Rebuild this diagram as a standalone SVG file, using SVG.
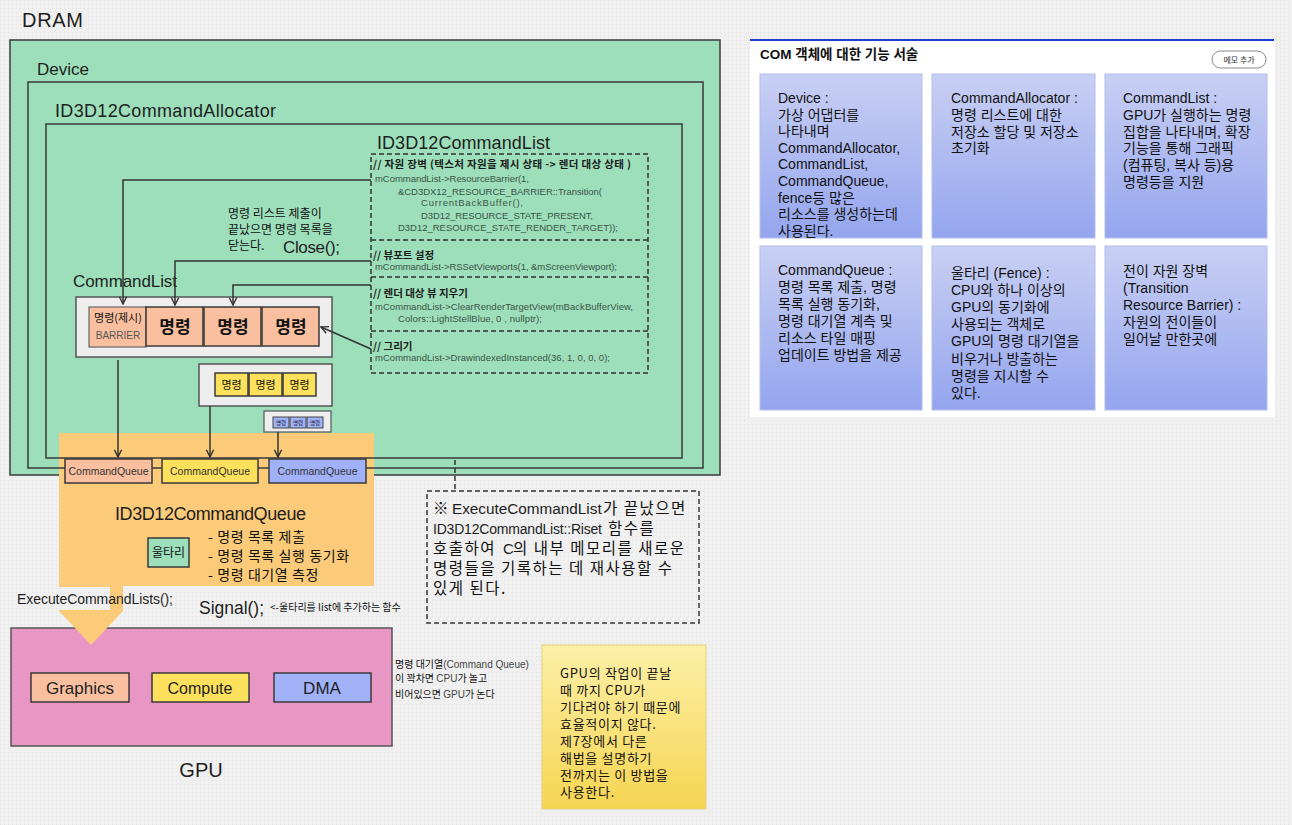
<svg xmlns="http://www.w3.org/2000/svg" width="1292" height="825" viewBox="0 0 1292 825">
  <style>
    .box { stroke:#3a3a3a; stroke-width:1.5; }
    .green { fill:#9ddfbb; }
    .hand { font-family:"Liberation Sans","Noto Sans CJK KR",sans-serif; fill:#1e1e1e; }
    .ko { font-family:"Noto Sans CJK KR","Liberation Sans",sans-serif; fill:#111; }
    .code { font-family:"Liberation Sans","Noto Sans CJK KR",sans-serif; font-size:9.5px; fill:#3b5446; }
    .cmt { font-family:"Noto Sans CJK KR",sans-serif; font-size:10.5px; font-weight:bold; fill:#1a1a1a; }
    .conn { fill:none; stroke:#333; stroke-width:1.5; }
    .dash { fill:none; stroke:#333; stroke-width:1.5; stroke-dasharray:5 3; }
    .card { font-family:"Liberation Sans","Noto Sans CJK KR",sans-serif; font-size:14px; fill:#111; }
    .q { font-family:"Liberation Sans",sans-serif; font-size:10.5px; fill:#333; text-anchor:middle; }
    .mid { text-anchor:middle; }
  </style>
  <defs>
    <pattern id="dots" width="4" height="4" patternUnits="userSpaceOnUse">
      <rect width="4" height="4" fill="#f0f0f0"/>
      <rect width="1" height="1" fill="#e2e2e2"/>
    </pattern>
    <linearGradient id="cardFill" x1="0" y1="0" x2="0" y2="1">
      <stop offset="0" stop-color="#c9d0f4"/>
      <stop offset="1" stop-color="#94a5ee"/>
    </linearGradient>
    <linearGradient id="stickyFill" x1="0" y1="0" x2="0" y2="1">
      <stop offset="0" stop-color="#fcf0a8"/>
      <stop offset="1" stop-color="#f6d552"/>
    </linearGradient>
    <marker id="arr" viewBox="0 0 10 10" refX="9" refY="5" markerWidth="9" markerHeight="9" markerUnits="userSpaceOnUse" orient="auto">
      <path d="M1,1 L9,5 L1,9" fill="none" stroke="#333" stroke-width="1.6"/>
    </marker>
  </defs>

  <!-- page -->
  <rect width="1292" height="825" fill="url(#dots)"/>

  <!-- memory hierarchy -->
  <g id="dram">
    <rect class="box green" x="10" y="40" width="710" height="435"/>
    <text class="hand" x="22" y="27" font-size="20" textLength="61">DRAM</text>
  </g>
  <g id="device">
    <rect class="box green" x="28" y="82" width="675" height="386"/>
    <text class="hand" x="37" y="75" font-size="17" textLength="52">Device</text>
  </g>
  <g id="allocator">
    <rect class="box green" x="46" y="124" width="636" height="334"/>
    <text class="hand" x="55" y="117" font-size="18" textLength="221">ID3D12CommandAllocator</text>
  </g>

  <!-- GPU -->
  <g id="gpu">
    <rect x="11" y="628" width="381" height="118" fill="#e896c3" stroke="#555" stroke-width="1.5"/>
    <rect class="box" x="31" y="673" width="98" height="29" fill="#f9bf9f"/>
    <text class="hand mid" x="80" y="694" font-size="17">Graphics</text>
    <rect class="box" x="152" y="673" width="97" height="29" fill="#fde05c"/>
    <text class="hand mid" x="200" y="694" font-size="16">Compute</text>
    <rect class="box" x="274" y="673" width="97" height="29" fill="#a0b1f8"/>
    <text class="hand mid" x="322" y="694" font-size="17">DMA</text>
    <text class="hand mid" x="201" y="777" font-size="20">GPU</text>
  </g>

  <!-- command list code -->
  <g id="commandlist-code">
    <text class="hand" x="377" y="149" font-size="18" textLength="173">ID3D12CommandList</text>
    <rect class="dash" x="371" y="154" width="277" height="219"/>
    <line class="dash" x1="371" y1="240" x2="648" y2="240"/>
    <line class="dash" x1="371" y1="277" x2="648" y2="277"/>
    <line class="dash" x1="371" y1="331" x2="648" y2="331"/>
    <text class="cmt" x="373" y="168" textLength="258">// 자원 장벽 (텍스처 자원을 제시 상태 -&gt; 렌더 대상 상태 )</text>
    <text class="code" x="375" y="182" textLength="154">mCommandList-&gt;ResourceBarrier(1,</text>
    <text class="code" x="398" y="195" textLength="204">&amp;CD3DX12_RESOURCE_BARRIER::Transition(</text>
    <text class="code" x="421" y="206" textLength="102">CurrentBackBuffer(),</text>
    <text class="code" x="421" y="219" textLength="172">D3D12_RESOURCE_STATE_PRESENT,</text>
    <text class="code" x="398" y="231" textLength="220">D3D12_RESOURCE_STATE_RENDER_TARGET));</text>
    <text class="cmt" x="373" y="259">// 뷰포트 설정</text>
    <text class="code" x="375" y="270" textLength="242">mCommandList-&gt;RSSetViewports(1, &amp;mScreenViewport);</text>
    <text class="cmt" x="373" y="297">// 렌더 대상 뷰 지우기</text>
    <text class="code" x="375" y="310" textLength="258">mCommandList-&gt;ClearRenderTargetView(mBackBufferView,</text>
    <text class="code" x="398" y="322" textLength="144">Colors::LightStellBlue, 0 , nullptr);</text>
    <text class="cmt" x="373" y="350">// 그리기</text>
    <text class="code" x="375" y="361" textLength="235">mCommandList-&gt;DrawindexedInstanced(36, 1, 0, 0, 0);</text>
  </g>

  <g id="close-note">
    <text class="ko" x="228" y="218" font-size="12">명령 리스트 제출이</text>
    <text class="ko" x="228" y="234" font-size="12">끝났으면 명령 목록을</text>
    <text class="ko" x="228" y="250" font-size="12">닫는다.</text>
    <text class="hand" x="283" y="253" font-size="17" textLength="57">Close();</text>
  </g>

  <!-- command lists -->
  <g id="commandlist-1">
    <text class="hand" x="73" y="287" font-size="17" textLength="104">CommandList</text>
    <rect x="76" y="297" width="256" height="60" fill="#eeeeee" stroke="#555" stroke-width="1.5"/>
    <rect x="89" y="307" width="57" height="40" fill="#f9bf9f" stroke="#666" stroke-width="1.2"/>
    <text class="ko mid" x="118" y="322" font-size="11">명령(제시)</text>
    <text class="hand mid" x="118" y="339" font-size="10" style="fill:#555">BARRIER</text>
    <rect class="box" x="146" y="307" width="57" height="39" fill="#f9bf9f"/>
    <rect class="box" x="204" y="307" width="57" height="39" fill="#f9bf9f"/>
    <rect class="box" x="262" y="307" width="57" height="39" fill="#f9bf9f"/>
    <text class="ko mid" x="175" y="333" font-size="17" font-weight="bold">명령</text>
    <text class="ko mid" x="233" y="333" font-size="17" font-weight="bold">명령</text>
    <text class="ko mid" x="291" y="333" font-size="17" font-weight="bold">명령</text>
  </g>
  <g id="commandlist-2">
    <rect x="199" y="364" width="133" height="42" fill="#eeeeee" stroke="#555" stroke-width="1.5"/>
    <rect class="box" x="215" y="373" width="33" height="23" fill="#fde05c"/>
    <rect class="box" x="249" y="373" width="33" height="23" fill="#fde05c"/>
    <rect class="box" x="283" y="373" width="33" height="23" fill="#fde05c"/>
    <text class="ko mid" x="231.5" y="389" font-size="11">명령</text>
    <text class="ko mid" x="265.5" y="389" font-size="11">명령</text>
    <text class="ko mid" x="299.5" y="389" font-size="11">명령</text>
  </g>
  <g id="commandlist-3">
    <rect x="264" y="411" width="67" height="21" fill="#eeeeee" stroke="#555" stroke-width="1.2"/>
    <rect x="273" y="417" width="16" height="11" fill="#a0b1f8" stroke="#444" stroke-width="1"/>
    <rect x="290" y="417" width="16" height="11" fill="#a0b1f8" stroke="#444" stroke-width="1"/>
    <rect x="307" y="417" width="16" height="11" fill="#a0b1f8" stroke="#444" stroke-width="1"/>
    <text class="ko mid" x="281" y="425" font-size="5.5">명령</text>
    <text class="ko mid" x="298" y="425" font-size="5.5">명령</text>
    <text class="ko mid" x="315" y="425" font-size="5.5">명령</text>
  </g>

  <!-- command queue -->
  <g id="command-queue">
    <path d="M59,433 H374 V586 H123 V611 L91,645 L59,611 Z" fill="#fbcb7a"/>
    <line x1="59" y1="458" x2="374" y2="458" stroke="#3a3a3a" stroke-width="1.5"/>
    <line x1="59" y1="468" x2="374" y2="468" stroke="#3a3a3a" stroke-width="1.5"/>
    <rect class="box" x="65" y="459" width="87" height="24" fill="#f9bf9f"/>
    <text class="q" x="108.5" y="475">CommandQueue</text>
    <rect class="box" x="162" y="459" width="96" height="24" fill="#fde05c"/>
    <text class="q" x="210" y="475">CommandQueue</text>
    <rect class="box" x="269" y="459" width="97" height="24" fill="#a0b1f8"/>
    <text class="q" x="317.5" y="475">CommandQueue</text>
    <text class="hand" x="115" y="520" font-size="18" textLength="191">ID3D12CommandQueue</text>
    <rect class="box green" x="148" y="538" width="41" height="29"/>
    <text class="ko mid" x="168.5" y="557" font-size="12">울타리</text>
    <text class="ko" font-size="14" letter-spacing="0.6"><tspan x="208" y="542">- 명령 목록 제출</tspan><tspan x="208" y="561">- 명령 목록 실행 동기화</tspan><tspan x="208" y="580">- 명령 대기열 측정</tspan></text>
    <rect x="14" y="587" width="96" height="23" fill="url(#dots)"/>
    <text class="hand" x="17" y="604" font-size="14" textLength="156">ExecuteCommandLists();</text>
    <text class="hand" x="199" y="614" font-size="17.5" textLength="65">Signal();</text>
    <text class="ko" x="270" y="611" font-size="10">&lt;-울타리를 list에 추가하는 함수</text>
  </g>

  <!-- connectors -->
  <g id="connectors">
    <path class="conn" d="M371,180 H123 V304" marker-end="url(#arr)"/>
    <path class="conn" d="M371,261 H175 V305" marker-end="url(#arr)"/>
    <path class="conn" d="M371,285 H233 V305" marker-end="url(#arr)"/>
    <path class="conn" d="M371,349 L321,327" marker-end="url(#arr)"/>
    <path class="conn" d="M118,360 V457" marker-end="url(#arr)"/>
    <path class="conn" d="M210,406 V457" marker-end="url(#arr)"/>
    <path class="conn" d="M278,432 V457" marker-end="url(#arr)"/>
    <path class="dash" d="M455,460 V490"/>
  </g>

  <!-- reset note -->
  <g id="reset-note">
    <rect class="dash" x="427" y="491" width="272" height="132" stroke="#555"/>
    <text class="ko" font-size="15.5" letter-spacing="1.5"><tspan x="433" y="514">※</tspan><tspan x="452" y="514" class="hand" font-size="15.3" letter-spacing="0">ExecuteCommandList</tspan><tspan x="603" y="514">가 끝났으면</tspan><tspan x="433" y="534" class="hand" font-size="14" letter-spacing="0" textLength="169">ID3D12CommandList::Riset</tspan><tspan x="608" y="534">함수를</tspan><tspan x="433" y="554">호출하여</tspan><tspan x="503" y="554" class="hand" font-size="15" letter-spacing="0">C</tspan><tspan x="513" y="554">의 내부 메모리를 새로운</tspan><tspan x="433" y="574">명령들을 기록하는 데 재사용할 수</tspan><tspan x="433" y="594">있게 된다.</tspan></text>
  </g>

  <g id="queue-note">
    <text class="ko" x="395" y="668" font-size="10">명령 대기열<tspan class="hand" style="fill:#444">(Command Queue)</tspan></text>
    <text class="ko" x="395" y="682" font-size="10">이 꽉차면 <tspan class="hand" style="fill:#444">CPU</tspan>가 놀고</text>
    <text class="ko" x="395" y="698" font-size="10">비어있으면 <tspan class="hand" style="fill:#444">GPU</tspan>가 논다</text>
  </g>

  <!-- sticky note -->
  <g id="sticky-note">
    <rect x="542" y="645" width="164" height="164" fill="url(#stickyFill)" stroke="#e3cf7a" stroke-width="1"/>
    <text class="ko" font-size="13" letter-spacing="0.7"><tspan x="560" y="678">GPU의 작업이 끝날</tspan><tspan x="560" y="695">때 까지 CPU가</tspan><tspan x="560" y="712">기다려야 하기 때문에</tspan><tspan x="560" y="729">효율적이지 않다.</tspan><tspan x="560" y="746">제7장에서 다른</tspan><tspan x="560" y="763">해법을 설명하기</tspan><tspan x="560" y="780">전까지는 이 방법을</tspan><tspan x="560" y="797">사용한다.</tspan></text>
  </g>

  <!-- COM description panel -->
  <g id="com-panel">
    <rect x="750" y="39" width="525" height="378" fill="#ffffff"/>
    <line x1="750" y1="40" x2="1274" y2="40" stroke="#1e3fd6" stroke-width="2"/>
    <text x="760" y="59" font-family="'Liberation Sans','Noto Sans CJK KR',sans-serif" font-size="13.5" font-weight="bold" fill="#111">COM 객체에 대한 기능 서술</text>
    <rect x="1212" y="51" width="54" height="17" rx="8.5" fill="#fff" stroke="#888" stroke-width="1"/>
    <text x="1239" y="63" class="mid" font-family="'Noto Sans CJK KR',sans-serif" font-size="8" fill="#333">메모 추가</text>
  </g>
  <g id="card-device">
    <rect x="760" y="74" width="162" height="164" fill="url(#cardFill)" stroke="#b3bdec"/>
    <text class="card" x="778" y="103">Device :<tspan x="778" dy="16.6">가상 어댑터를</tspan><tspan x="778" dy="16.6">나타내며</tspan><tspan x="778" dy="16.6">CommandAllocator,</tspan><tspan x="778" dy="16.6">CommandList,</tspan><tspan x="778" dy="16.6">CommandQueue,</tspan><tspan x="778" dy="16.6">fence등 많은</tspan><tspan x="778" dy="16.6">리소스를 생성하는데</tspan><tspan x="778" dy="16.6">사용된다.</tspan></text>
  </g>
  <g id="card-allocator">
    <rect x="932" y="74" width="163" height="164" fill="url(#cardFill)" stroke="#b3bdec"/>
    <text class="card" x="951" y="103">CommandAllocator :<tspan x="951" dy="16.8">명령 리스트에 대한</tspan><tspan x="951" dy="16.8">저장소 할당 및 저장소</tspan><tspan x="951" dy="16.8">초기화</tspan></text>
  </g>
  <g id="card-list">
    <rect x="1105" y="74" width="162" height="164" fill="url(#cardFill)" stroke="#b3bdec"/>
    <text class="card" x="1123" y="103">CommandList :<tspan x="1123" dy="16.8">GPU가 실행하는 명령</tspan><tspan x="1123" dy="16.8">집합을 나타내며, 확장</tspan><tspan x="1123" dy="16.8">기능을 통해 그래픽</tspan><tspan x="1123" dy="16.8">(컴퓨팅, 복사 등)용</tspan><tspan x="1123" dy="16.8">명령등을 지원</tspan></text>
  </g>
  <g id="card-queue">
    <rect x="760" y="246" width="162" height="164" fill="url(#cardFill)" stroke="#b3bdec"/>
    <text class="card" x="778" y="275">CommandQueue :<tspan x="778" dy="17">명령 목록 제출, 명령</tspan><tspan x="778" dy="17">목록 실행 동기화,</tspan><tspan x="778" dy="17">명령 대기열 계측 및</tspan><tspan x="778" dy="17">리소스 타일 매핑</tspan><tspan x="778" dy="17">업데이트 방법을 제공</tspan></text>
  </g>
  <g id="card-fence">
    <rect x="932" y="246" width="163" height="164" fill="url(#cardFill)" stroke="#b3bdec"/>
    <text class="card" x="951" y="278">울타리 (Fence) :<tspan x="951" dy="17.1">CPU와 하나 이상의</tspan><tspan x="951" dy="17.1">GPU의 동기화에</tspan><tspan x="951" dy="17.1">사용되는 객체로</tspan><tspan x="951" dy="17.1">GPU의 명령 대기열을</tspan><tspan x="951" dy="17.1">비우거나 방출하는</tspan><tspan x="951" dy="17.1">명령을 지시할 수</tspan><tspan x="951" dy="17.1">있다.</tspan></text>
  </g>
  <g id="card-barrier">
    <rect x="1105" y="246" width="162" height="164" fill="url(#cardFill)" stroke="#b3bdec"/>
    <text class="card" x="1123" y="276">전이 자원 장벽<tspan x="1123" dy="17">(Transition</tspan><tspan x="1123" dy="17">Resource Barrier) :</tspan><tspan x="1123" dy="17">자원의 전이들이</tspan><tspan x="1123" dy="17">일어날 만한곳에</tspan></text>
  </g>
</svg>
